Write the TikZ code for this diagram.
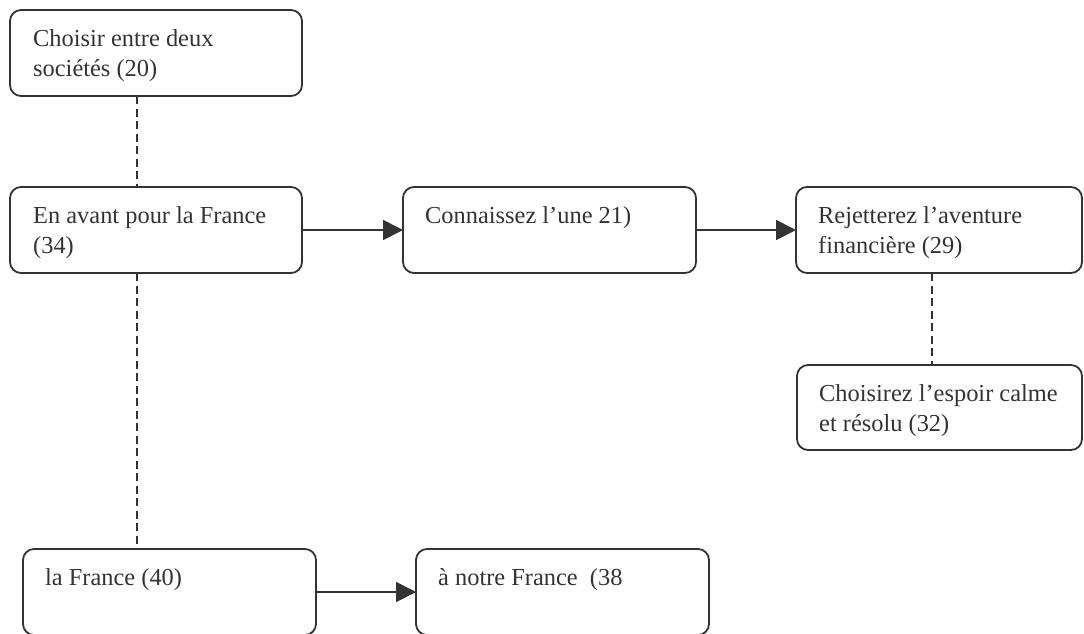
\documentclass[tikz,border=0pt]{standalone}
\usepackage{fontspec}
\setmainfont{Liberation Serif}
\usetikzlibrary{arrows.meta}
\definecolor{ink}{HTML}{333333}
\tikzset{
  box/.style={draw=ink, line width=1.8pt, rounded corners=11pt, anchor=north west, inner sep=0pt, outer sep=0pt},
  txt/.style={anchor=base west, inner sep=0pt, align=left, text=ink, font=\fontsize{24.4}{30.3}\selectfont},
  dashline/.style={draw=ink, line width=1.8pt, dash pattern=on 8pt off 4.5pt},
  arr/.style={draw=ink, line width=1.8pt, -{Triangle[length=20pt,width=20pt]}}
}
\begin{document}
\begin{tikzpicture}[x=1pt,y=-1pt]
\useasboundingbox (0,0) rectangle (1084,633);
\node[box, minimum width=292pt, minimum height=86pt] (b1) at (10,10) {};
\node[box, minimum width=292pt, minimum height=86pt] (b2) at (10,187) {};
\node[box, minimum width=293pt, minimum height=86pt] (b3) at (403,187) {};
\node[box, minimum width=286pt, minimum height=86pt] (b4) at (796,187) {};
\node[box, minimum width=285pt, minimum height=85pt] (b5) at (797,365) {};
\node[box, minimum width=293pt, minimum height=86pt] (b6) at (23,549) {};
\node[box, minimum width=293pt, minimum height=86pt] (b7) at (416,549) {};
\node[txt] (t1) at (33,76.3) {Choisir entre deux\\sociétés (20)};
\node[txt] (t2) at (33,253.3) {En avant pour la France\\(34)};
\node[txt] (t3) at (425,223) {Connaissez l’une 21)};
\node[txt] (t4) at (818,253.3) {Rejetterez l’aventure\\financière (29)};
\node[txt] (t5) at (819,431.3) {Choisirez l’espoir calme\\et résolu (32)};
\node[txt] (t6) at (45,585) {la France (40)};
\node[txt] (t7) at (438,585) {à notre France~~(38};
\draw[dashline] ([xshift=127pt]b1.south west) -- ([xshift=127pt]b2.north west);
\draw[dashline] ([xshift=127pt]b2.south west) -- ([xshift=114pt]b6.north west);
\draw[dashline] ([xshift=136pt]b4.south west) -- ([xshift=135pt]b5.north west);
\draw[arr] (b2.east) -- (b3.west);
\draw[arr] (b3.east) -- (b4.west);
\draw[arr] (b6.east) -- (b7.west);
\end{tikzpicture}
\end{document}
